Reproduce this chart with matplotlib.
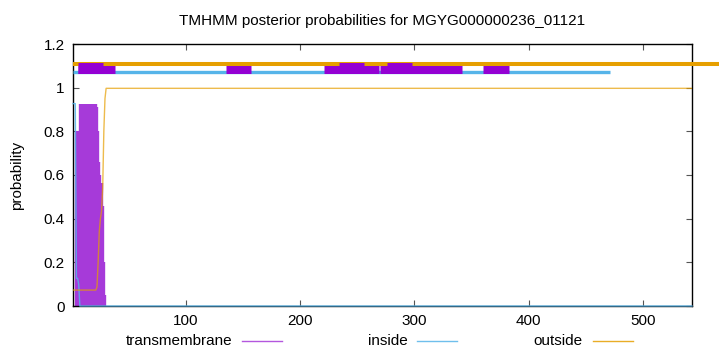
#!/usr/bin/env python3
"""TMHMM posterior probability plot, gnuplot look."""

import matplotlib

matplotlib.use("Agg")
import matplotlib.pyplot as plt
from matplotlib.lines import Line2D

plt.rcParams["font.family"] = ["Liberation Sans", "DejaVu Sans"]

TITLE = "TMHMM posterior probabilities for MGYG000000236_01121"
SEQ_LEN = 543

# per-residue transmembrane probability (impulses), zero after residue 30
tm_residues = list(range(1, 31))
tm_prob = [
    0.0, 0.0, 0.0, 0.80, 0.80, 0.80, 0.927, 0.927, 0.927, 0.927,
    0.927, 0.927, 0.927, 0.927, 0.927, 0.927, 0.927, 0.927, 0.927, 0.927,
    0.927, 0.913, 0.80, 0.66, 0.60, 0.565, 0.46, 0.20, 0.05, 0.0,
]

# inside / outside probability profiles (residue, value)
inside_res = [1, 2, 3, 4, 5, 6, 7, 543]
inside_prob = [0.927, 0.927, 0.927, 0.127, 0.127, 0.10, 0.0, 0.0]

outside_res = [1, 21, 22, 23, 24, 25, 26, 27, 28, 29, 30, 543]
outside_prob = [0.073, 0.073, 0.087, 0.20, 0.34, 0.40, 0.435, 0.54, 0.80, 0.95, 0.997, 0.997]

# predicted topology bars above the plot
tm_segments = [(5, 38), (135, 157), (221, 269), (270, 342), (360, 383)]
tm_front_segments = [(5, 27), (234, 256), (276, 298)]
inside_segments = [(1, 471)]
outside_segments = [(1, 567)]

TM_COLOR = "#9400d3"
IN_COLOR = "#56b4e9"
OUT_COLOR = "#e69f00"


def main() -> None:
    fig = plt.figure(figsize=(7.2, 3.52), dpi=100)
    ax = fig.add_axes([73 / 720, 1 - 306 / 352, 619 / 720, 262 / 352])

    ax.vlines(tm_residues, 0, tm_prob, color="#a63ad9", linewidth=1.7, zorder=2)
    ax.plot(inside_res, inside_prob, color=IN_COLOR, linewidth=1.0, alpha=0.85,
            zorder=3, clip_on=False)
    ax.plot(outside_res, outside_prob, color=OUT_COLOR, linewidth=1.0, alpha=0.7, zorder=3)

    for start, end in inside_segments:
        ax.plot([start, end], [1.07, 1.07], color=IN_COLOR, linewidth=2.4,
                solid_capstyle="butt", zorder=4)
    for start, end in tm_segments:
        ax.plot([start, end], [1.091, 1.091], color=TM_COLOR, linewidth=7.9,
                solid_capstyle="butt", zorder=5)
    for start, end in outside_segments:
        ax.plot([start, end], [1.11, 1.11], color=OUT_COLOR, linewidth=2.9,
                solid_capstyle="butt", zorder=6, clip_on=False)
    for start, end in tm_front_segments:
        ax.plot([start, end], [1.091, 1.091], color=TM_COLOR, linewidth=7.9,
                solid_capstyle="butt", zorder=7)

    ax.set_xlim(1, SEQ_LEN)
    ax.set_ylim(0, 1.2)
    ax.set_xticks([100, 200, 300, 400, 500])
    ax.set_yticks([0, 0.2, 0.4, 0.6, 0.8, 1.0, 1.2])
    ax.set_yticklabels(["0", "0.2", "0.4", "0.6", "0.8", "1", "1.2"])
    ax.tick_params(direction="in", length=4, width=0.8, color="#555555",
                   top=True, right=True, labelsize=11, pad=6)
    for spine in ax.spines.values():
        spine.set_linewidth(1.0)
        spine.set_color("black")

    ax.set_ylabel("probability", fontsize=11, labelpad=14)
    ax.set_title(TITLE, fontsize=11, pad=14)

    # legend row under the axis, gnuplot style
    entries = [("transmembrane", "#a63ad9", 232, 242),
               ("inside", IN_COLOR, 408, 417),
               ("outside", OUT_COLOR, 583, 593)]
    y = 1 - 341 / 352
    for label, color, text_right, line_left in entries:
        fig.text(text_right / 720, y, label, ha="right", va="center", fontsize=11)
        fig.add_artist(Line2D([line_left / 720, (line_left + 40) / 720], [y, y],
                              color=color, linewidth=1.0, alpha=0.85,
                              transform=fig.transFigure))

    fig.savefig("out.png", dpi=100)
    plt.close(fig)


if __name__ == "__main__":
    main()
